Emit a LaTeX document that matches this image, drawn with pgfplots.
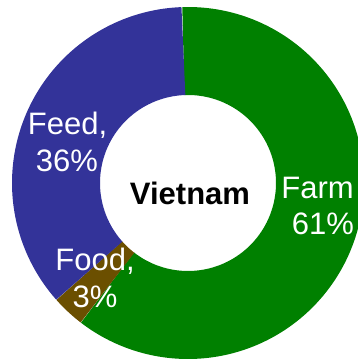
\documentclass[border=0pt]{standalone}
\usepackage{fontspec}
\setmainfont{Liberation Sans}
\usepackage{pgfplots}
\pgfplotsset{compat=1.18}
\definecolor{farm}{RGB}{0,128,0}
\definecolor{feed}{RGB}{51,51,153}
\definecolor{food}{RGB}{107,79,0}
% shares (percent)
\def\vFarm{61}
\def\vFood{3}
\def\vFeed{36}
\pgfmathsetmacro{\aA}{92}
\pgfmathsetmacro{\aB}{\aA-3.6*\vFarm}
\pgfmathsetmacro{\aC}{\aB-3.6*\vFood}
\pgfmathsetmacro{\aD}{\aC-3.6*\vFeed}
\begin{document}
\begin{tikzpicture}
\begin{axis}[hide axis, scale only axis, width=358pt, height=361pt,
  xmin=0, xmax=358, ymin=0, ymax=361, clip=true]
\addplot[farm, line width=88pt, line join=round, domain=\aB:\aA, samples=200, no marks] ({188+132*cos(x)},{178+132*sin(x)});
\addplot[food, line width=88pt, line join=round, domain=\aC:\aB, samples=30, no marks] ({188+132*cos(x)},{178+132*sin(x)});
\addplot[feed, line width=88pt, line join=round, domain=\aD:\aC, samples=150, no marks] ({188+132*cos(x)},{178+132*sin(x)});
\tikzset{lbl/.style={inner sep=0pt, text=white, font=\fontsize{31}{37}\selectfont}}
\node[lbl, anchor=base] at (axis cs:67.5,226) {Feed,};
\node[lbl, anchor=base] at (axis cs:67,189) {36\%};
\node[lbl, anchor=base] at (axis cs:95,90) {Food,};
\node[lbl, anchor=base] at (axis cs:95,53) {3\%};
\node[lbl, anchor=base east] at (axis cs:354,162) {Farm};
\node[lbl, anchor=base] at (axis cs:323,126) {61\%};
\node[inner sep=0pt, anchor=base, text=black, font=\fontsize{31}{37}\selectfont\bfseries] at (axis cs:190,156) {Vietnam};
\end{axis}
\pgfresetboundingbox
\path (0,0) rectangle (358pt,361pt);
\end{tikzpicture}
\end{document}
